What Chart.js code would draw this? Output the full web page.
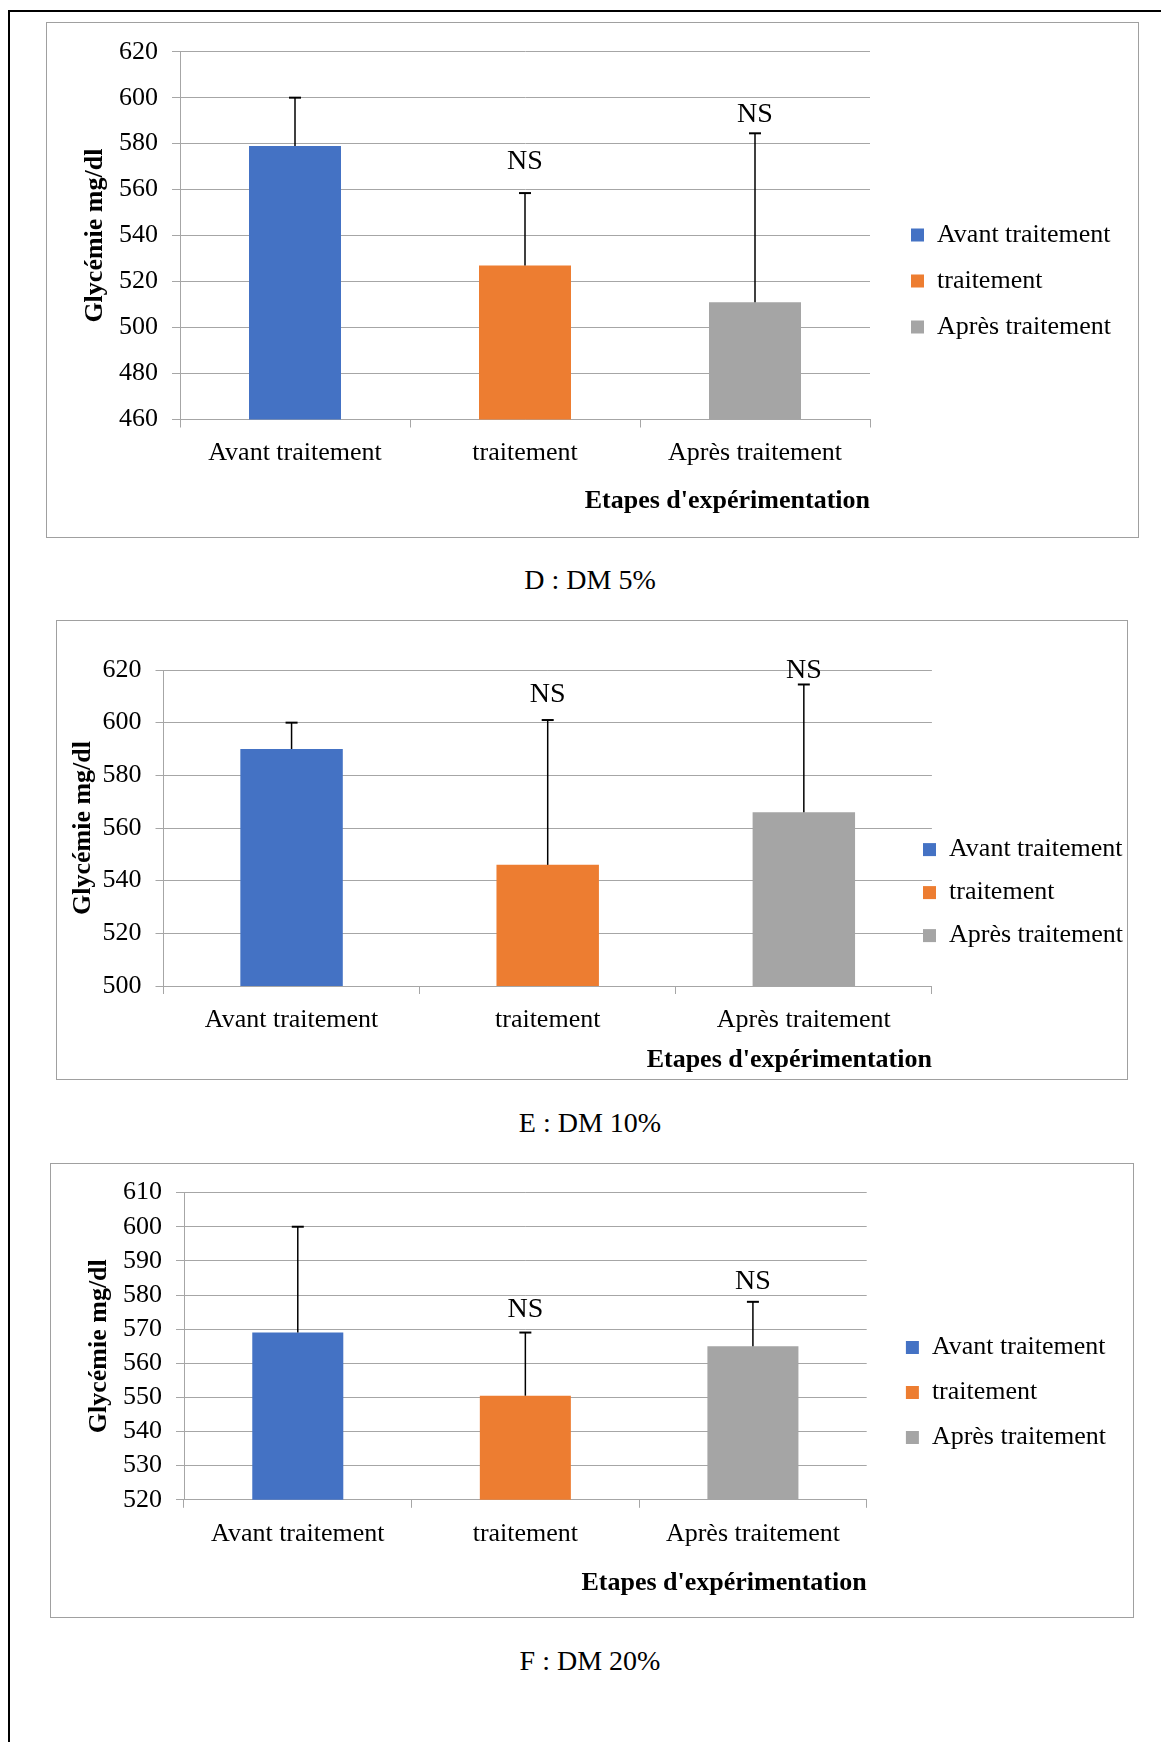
<!DOCTYPE html>
<html lang="fr">
<head>
<meta charset="utf-8">
<title>Glycémie - DM 5%, 10%, 20%</title>
<script src="https://cdn.jsdelivr.net/npm/chart.js@4.4.0/dist/chart.umd.min.js"></script>
<style>
	body { margin: 0; width: 1161px; height: 1742px; background: #fff; position: relative; overflow: hidden;
		font-family: 'Liberation Serif', 'Times New Roman', serif; }
	.bord-haut { position: absolute; left: 8px; top: 10px; width: 1153px; height: 2px; background: #000; }
	.bord-gauche { position: absolute; left: 8px; top: 10px; width: 2px; height: 1732px; background: #000; }
	.cadre { position: absolute; border: 1.5px solid #a0a0a0; box-sizing: border-box; }
	canvas { position: absolute; }
	.legende-fig { position: absolute; width: 300px; margin-left: -150px; text-align: center;
		font-size: 28px; line-height: 28px; color: #000; }
</style>
</head>
<body>
<div class="bord-haut"></div>
<div class="bord-gauche"></div>
<script>
// donnees
var etapes = ['Avant traitement', 'traitement', 'Après traitement'];

var moyennesD = [579, 527, 511];
var erreursD = [21, 31.5, 73.5];
var signifD = ['', 'NS', 'NS'];
var graduationsD = [460, 620, 20];

var moyennesE = [590, 546, 566];
var erreursE = [10, 55, 48.5];
var signifE = ['', 'NS', 'NS'];
var graduationsE = [500, 620, 20];

var moyennesF = [569, 550.5, 565];
var erreursF = [31, 18.5, 13];
var signifF = ['', 'NS', 'NS'];
var graduationsF = [520, 610, 10];

var titreAxeX = "Etapes d'expérimentation";
var titreAxeY = 'Glycémie mg/dl';

// style
var couleurs = ['#4472c4', '#ed7d31', '#a5a5a5'];
var GRIS = '#a6a6a6';
var POLICE = "'Liberation Serif', 'Times New Roman', serif";
var TAILLE = 26;

// mise en page (coordonnees de la page, decalage des NS en px au-dessus de la barre d'erreur)
var pageD = { cadre: {l: 46, t: 22, r: 1139, b: 538}, zone: {l: 180, r: 870, t: 51.7, b: 419.5},
	titreY: 95, etiquettesX: 453.5, titreX: 501, legende: {x: 911, y: 235, ecart: 46},
	decalNS: [22, 31, 19], legendeFig: 580, texte: 'D : DM 5%' };
var pageE = { cadre: {l: 55.5, t: 620.4, r: 1127.6, b: 1079.6}, zone: {l: 163, r: 931.4, t: 670.4, b: 986.4},
	titreY: 83, etiquettesX: 1020.7, titreX: 1060.7, legende: {x: 922.5, y: 850, ecart: 43},
	decalNS: [22, 25, 14], legendeFig: 1123, texte: 'E : DM 10%' };
var pageF = { cadre: {l: 49.6, t: 1162.5, r: 1134.3, b: 1618.2}, zone: {l: 183.6, r: 866.3, t: 1191.9, b: 1499.3},
	titreY: 98.5, etiquettesX: 1533.3, titreX: 1582.4, legende: {x: 905.5, y: 1347, ecart: 45},
	decalNS: [22, 23, 20], legendeFig: 1660.5, texte: 'F : DM 20%' };

function mesurer(textes){
	var ctx = document.createElement('canvas').getContext('2d');
	ctx.font = TAILLE + 'px ' + POLICE;
	return Math.max.apply(null, textes.map(function(t){ return ctx.measureText(t).width; }));
}

function creerGraphique(m, moyennes, erreurs, signif, graduations){
	var cadre = m.cadre, zone = m.zone;
	var demiLigne = TAILLE * 1.2 / 2;
	var p = m.legende.ecart - TAILLE;
	var hauteur = Math.round(cadre.b - cadre.t);
	var droiteZone = zone.r - cadre.l;
	var legLargeur = p + 13 + TAILLE / 2 + mesurer(etapes) + 10;
	var largeur = Math.ceil(Math.max(cadre.r - cadre.l, droiteZone + legLargeur));

	var div = document.createElement('div');
	div.className = 'cadre';
	div.style.left = cadre.l + 'px';
	div.style.top = cadre.t + 'px';
	div.style.width = (cadre.r - cadre.l) + 'px';
	div.style.height = (cadre.b - cadre.t) + 'px';
	document.body.appendChild(div);

	var canvas = document.createElement('canvas');
	canvas.width = largeur;
	canvas.height = hauteur;
	canvas.style.left = cadre.l + 'px';
	canvas.style.top = cadre.t + 'px';
	document.body.appendChild(canvas);

	var leg = document.createElement('div');
	leg.className = 'legende-fig';
	leg.style.left = '590px';
	leg.style.top = (m.legendeFig - 14) + 'px';
	leg.textContent = m.texte;
	document.body.appendChild(leg);

	var datasets = etapes.map(function(etape, i){
		return {
			label: etape,
			data: moyennes.map(function(v, j){ return j === i ? v : null; }),
			backgroundColor: couleurs[i],
			borderWidth: 0,
			categoryPercentage: 1,
			barPercentage: 0.4
		};
	});

	// la legende d'Excel peut mordre sur la zone du graphique : on la deplace apres la mise en page
	var placerLegende = {
		id: 'placerLegende',
		afterLayout: function(chart){
			var lg = chart.legend;
			var dx = (m.legende.x - cadre.l - p) - lg.left;
			var premier = (lg.top + p + lg.bottom - 3 * (TAILLE + p)) / 2 + TAILLE / 2;
			var dy = (m.legende.y - cadre.t) - premier;
			lg.left += dx; lg.right += dx;
			lg.top += dy; lg.bottom += dy;
		}
	};

	var barresErreur = {
		id: 'barresErreur',
		afterDatasetsDraw: function(chart){
			var ctx = chart.ctx, y = chart.scales.y;
			ctx.save();
			moyennes.forEach(function(v, i){
				var barre = chart.getDatasetMeta(i).data[i];
				var haut = y.getPixelForValue(v + erreurs[i]);
				ctx.strokeStyle = '#000';
				ctx.lineWidth = 1.5;
				ctx.beginPath();
				ctx.moveTo(barre.x, barre.y);
				ctx.lineTo(barre.x, haut);
				ctx.stroke();
				ctx.lineWidth = 2;
				ctx.beginPath();
				ctx.moveTo(barre.x - 6, haut);
				ctx.lineTo(barre.x + 6, haut);
				ctx.stroke();
				if (signif[i]) {
					ctx.fillStyle = '#000';
					ctx.font = '28px ' + POLICE;
					ctx.textAlign = 'center';
					ctx.textBaseline = 'middle';
					ctx.fillText(signif[i], barre.x, haut - m.decalNS[i]);
				}
			});
			ctx.restore();
		}
	};

	return new Chart(canvas, {
		type: 'bar',
		data: { labels: etapes, datasets: datasets },
		options: {
			responsive: false,
			animation: false,
			devicePixelRatio: 1,
			layout: { padding: { top: zone.t - cadre.t, left: 0, bottom: 0,
				right: largeur - droiteZone - legLargeur } },
			plugins: {
				legend: {
					position: 'right',
					align: 'center',
					maxWidth: 400,
					labels: { boxWidth: 13, boxHeight: 13, padding: p, color: '#000',
						font: { family: POLICE, size: TAILLE } }
				},
				tooltip: { enabled: false }
			},
			scales: {
				x: {
					stacked: true,
					grid: { drawOnChartArea: false, color: GRIS, tickLength: 8 },
					border: { color: GRIS },
					ticks: { color: '#000', padding: m.etiquettesX - zone.b - 8 - demiLigne,
						font: { family: POLICE, size: TAILLE } },
					title: { display: true, text: titreAxeX, align: 'end', color: '#000',
						font: { family: POLICE, size: TAILLE, weight: 'bold' },
						padding: { top: 0, bottom: hauteur - demiLigne - (m.titreX - cadre.t) } },
					afterFit: function(s){ s.height = hauteur - (zone.b - cadre.t); }
				},
				y: {
					min: graduations[0],
					max: graduations[1],
					ticks: { stepSize: graduations[2], autoSkip: false, color: '#000', padding: 14,
						font: { family: POLICE, size: TAILLE } },
					grid: { color: GRIS, tickLength: 8 },
					border: { color: GRIS },
					title: { display: true, text: titreAxeY, color: '#000',
						font: { family: POLICE, size: TAILLE, weight: 'bold' },
						padding: { top: m.titreY - cadre.l - demiLigne, bottom: 0 } },
					afterFit: function(s){ s.width = zone.l - cadre.l; }
				}
			}
		},
		plugins: [placerLegende, barresErreur]
	});
}

creerGraphique(pageD, moyennesD, erreursD, signifD, graduationsD);
creerGraphique(pageE, moyennesE, erreursE, signifE, graduationsE);
creerGraphique(pageF, moyennesF, erreursF, signifF, graduationsF);
</script>
</body>
</html>
